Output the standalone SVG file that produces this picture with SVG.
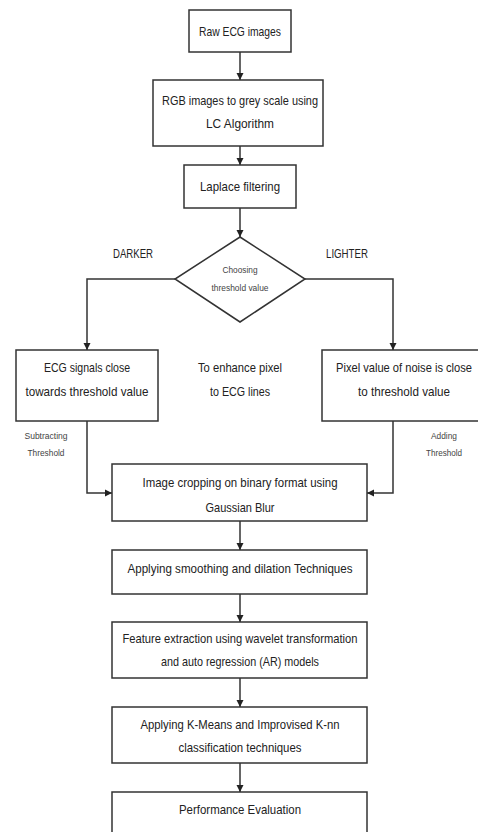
<svg xmlns="http://www.w3.org/2000/svg" width="478" height="832" viewBox="0 0 478 832">
<style>
.box{fill:#fff;stroke:#333;stroke-width:1.5}
.t{font-family:"Liberation Sans",Arial,sans-serif;font-size:13px;fill:#222;text-anchor:middle}
.s{font-family:"Liberation Sans",Arial,sans-serif;font-size:9.5px;fill:#444;text-anchor:middle}
.c{fill:none;stroke:#333;stroke-width:1.5}
</style>
<defs>
<marker id="ah" markerWidth="8" markerHeight="8" refX="7" refY="4" orient="auto" markerUnits="userSpaceOnUse">
<path d="M0,0.5 L7,4 L0,7.5 Z" fill="#222"/>
</marker>
</defs>
<rect width="478" height="832" fill="#fff"/>
<g id="connectors">
<line class="c" x1="240" y1="52" x2="240" y2="80" marker-end="url(#ah)"/>
<line class="c" x1="240" y1="146" x2="240" y2="165" marker-end="url(#ah)"/>
<line class="c" x1="240" y1="208" x2="240" y2="237" marker-end="url(#ah)"/>
<polyline class="c" points="175,279 87,279 87,350" marker-end="url(#ah)"/>
<polyline class="c" points="305,279 393,279 393,350" marker-end="url(#ah)"/>
<polyline class="c" points="87,421 87,493 112,493" marker-end="url(#ah)"/>
<polyline class="c" points="393,421 393,493 367,493" marker-end="url(#ah)"/>
<line class="c" x1="240" y1="521" x2="240" y2="550" marker-end="url(#ah)"/>
<line class="c" x1="240" y1="594" x2="240" y2="622" marker-end="url(#ah)"/>
<line class="c" x1="240" y1="678" x2="240" y2="707" marker-end="url(#ah)"/>
<line class="c" x1="240" y1="763" x2="240" y2="792" marker-end="url(#ah)"/>
</g>
<g id="raw">
<rect class="box" x="189" y="10" width="102" height="42"/>
<text class="t" x="240" y="36" textLength="82" lengthAdjust="spacingAndGlyphs">Raw ECG images</text>
</g>
<g id="rgb">
<rect class="box" x="153" y="80" width="170" height="66"/>
<text class="t" x="240" y="105" textLength="156" lengthAdjust="spacingAndGlyphs">RGB images to grey scale using</text>
<text class="t" x="240" y="128" textLength="68" lengthAdjust="spacingAndGlyphs">LC Algorithm</text>
</g>
<g id="laplace">
<rect class="box" x="184" y="165" width="112" height="43"/>
<text class="t" x="240" y="191" textLength="80" lengthAdjust="spacingAndGlyphs">Laplace filtering</text>
</g>
<g id="threshold">
<polygon class="box" points="240,237 305,279 240,322 175,279"/>
<text class="s" x="240" y="273" textLength="35" lengthAdjust="spacingAndGlyphs">Choosing</text>
<text class="s" x="240" y="291" textLength="57" lengthAdjust="spacingAndGlyphs">threshold value</text>
</g>
<g id="labels">
<text class="t" x="133" y="258" textLength="40" lengthAdjust="spacingAndGlyphs">DARKER</text>
<text class="t" x="347" y="258" textLength="42" lengthAdjust="spacingAndGlyphs">LIGHTER</text>
<text class="t" x="240" y="372" textLength="84" lengthAdjust="spacingAndGlyphs">To enhance pixel</text>
<text class="t" x="240" y="396" textLength="60" lengthAdjust="spacingAndGlyphs">to ECG lines</text>
<text class="s" x="46" y="439" textLength="43" lengthAdjust="spacingAndGlyphs">Subtracting</text>
<text class="s" x="46" y="456" textLength="37" lengthAdjust="spacingAndGlyphs">Threshold</text>
<text class="s" x="444" y="439" textLength="26" lengthAdjust="spacingAndGlyphs">Adding</text>
<text class="s" x="444" y="456" textLength="36" lengthAdjust="spacingAndGlyphs">Threshold</text>
</g>
<g id="darker">
<rect class="box" x="16" y="350" width="142" height="71"/>
<text class="t" x="87" y="372" textLength="86" lengthAdjust="spacingAndGlyphs">ECG signals close</text>
<text class="t" x="87" y="396" textLength="123" lengthAdjust="spacingAndGlyphs">towards threshold value</text>
</g>
<g id="lighter">
<rect class="box" x="322" y="350" width="165" height="71"/>
<text class="t" x="404" y="372" textLength="136" lengthAdjust="spacingAndGlyphs">Pixel value of noise is close</text>
<text class="t" x="404" y="396" textLength="92" lengthAdjust="spacingAndGlyphs">to threshold value</text>
</g>
<g id="crop">
<rect class="box" x="112" y="464" width="255" height="57"/>
<text class="t" x="240" y="487" textLength="195" lengthAdjust="spacingAndGlyphs">Image cropping on binary format using</text>
<text class="t" x="240" y="512" textLength="69" lengthAdjust="spacingAndGlyphs">Gaussian Blur</text>
</g>
<g id="smooth">
<rect class="box" x="112" y="550" width="255" height="44"/>
<text class="t" x="240" y="573" textLength="225" lengthAdjust="spacingAndGlyphs">Applying smoothing and dilation Techniques</text>
</g>
<g id="feature">
<rect class="box" x="112" y="622" width="255" height="56"/>
<text class="t" x="240" y="643" textLength="235" lengthAdjust="spacingAndGlyphs">Feature extraction using wavelet transformation</text>
<text class="t" x="240" y="666" textLength="158" lengthAdjust="spacingAndGlyphs">and auto regression (AR) models</text>
</g>
<g id="classify">
<rect class="box" x="112" y="707" width="255" height="56"/>
<text class="t" x="240" y="729" textLength="199" lengthAdjust="spacingAndGlyphs">Applying K-Means and Improvised K-nn</text>
<text class="t" x="240" y="752" textLength="123" lengthAdjust="spacingAndGlyphs">classification techniques</text>
</g>
<g id="perf">
<rect class="box" x="112" y="792" width="255" height="50"/>
<text class="t" x="240" y="814" textLength="122" lengthAdjust="spacingAndGlyphs">Performance Evaluation</text>
</g>
</svg>
